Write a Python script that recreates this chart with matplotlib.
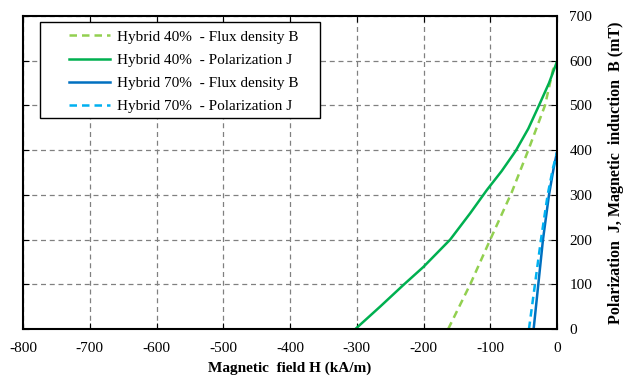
import matplotlib
matplotlib.use("Agg")
import matplotlib.pyplot as plt
from matplotlib.patches import Rectangle

plt.rcParams['font.family'] = ['Liberation Serif', 'DejaVu Serif']
plt.rcParams['axes.unicode_minus'] = False

# Hybrid 40% - Flux density B
h_b40 = [-163, -130, -100, -68, -43, -18, -6, 0]
b_b40 = [0, 100, 200, 305, 400, 500, 580, 597]
# Hybrid 40% - Polarization J
h_j40 = [-302, -265, -229, -200, -160, -130, -105, -83, -62, -43, -27, -12, 0]
j_j40 = [0, 50, 100, 139, 200, 259, 311, 353, 398, 448, 500, 550, 598]
# Hybrid 70% - Flux density B
h_b70 = [-35, -28, -21, -12, -5, 0]
b_b70 = [0, 100, 200, 300, 360, 395]
# Hybrid 70% - Polarization J
h_j70 = [-42, -33, -24, -14, -6, 0]
j_j70 = [0, 100, 200, 300, 360, 395]

labels = ["Hybrid 40%  - Flux density B", "Hybrid 40%  - Polarization J",
          "Hybrid 70%  - Flux density B", "Hybrid 70%  - Polarization J"]
xticks = [-800, -700, -600, -500, -400, -300, -200, -100, 0]
yticks = [0, 100, 200, 300, 400, 500, 600, 700]

W, H = 626, 377
fig = plt.figure(figsize=(W/100, H/100), dpi=100)
ax = fig.add_axes([23/W, 1-329/H, (557-23)/W, (329-16)/H])

ax.plot(h_b40, b_b40, color='#92D050', lw=1.8, ls=(0, (3, 2)), label=labels[0])
ax.plot(h_j40, j_j40, color='#00B050', lw=1.8, label=labels[1])
ax.plot(h_b70, b_b70, color='#0070C0', lw=1.8, label=labels[2])
ax.plot(h_j70, j_j70, color='#00B0F0', lw=1.8, ls=(0, (3, 2)), label=labels[3])

ax.set_xlim(-800, 0)
ax.set_ylim(0, 700)
ax.set_xticks(xticks)
ax.set_yticks(yticks)
ax.yaxis.tick_right()
ax.yaxis.set_label_position('right')
ax.tick_params(direction='in', labelsize=11, length=4, top=True, left=True, right=True, bottom=True,
               labelleft=False, labelright=True)
ax.tick_params(axis='x', pad=9)
ax.tick_params(axis='y', pad=9)
ax.grid(True, color='#808080', ls=(0, (4, 3)), lw=0.9)
for s in ax.spines.values():
    s.set_linewidth(1.5)
    s.set_color('black')

ax.set_xlabel('Magnetic  field H (kA/m)', fontsize=11, fontweight='bold', labelpad=5)
ax.set_ylabel('Polarization  J, Magnetic  induction  B (mT)', fontsize=11.5, fontweight='bold', labelpad=11)

# legend box (Excel-like, wide padding)
fig.patches.append(Rectangle((40/W, 1-118/H), (320-40)/W, (118-22)/H, transform=fig.transFigure,
                             facecolor='white', edgecolor='black', lw=1.0, zorder=5))
leg = fig.legend(loc='upper left', bbox_to_anchor=(69/W, 1-30/H), fontsize=11, frameon=False,
                 handlelength=2.7, handletextpad=0.45, labelspacing=0.62, borderpad=0,
                 borderaxespad=0)
leg.set_zorder(6)

fig.savefig('out.png', dpi=100)
